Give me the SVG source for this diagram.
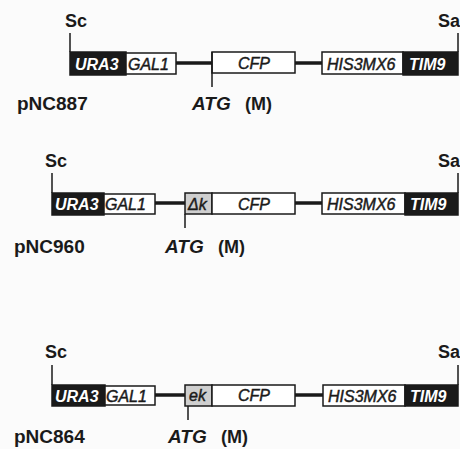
<svg xmlns="http://www.w3.org/2000/svg" width="460" height="449" viewBox="0 0 460 449">
<style>
text{font-family:"Liberation Sans",Arial,sans-serif}
.site{font-size:18px;font-weight:bold;fill:#1a1a1a}
.name{font-size:19px;font-weight:bold;fill:#1a1a1a}
.atg{font-size:19px;font-weight:bold;font-style:italic;fill:#1a1a1a}
.m{font-size:18px;font-weight:bold;fill:#1a1a1a}
.gw{font-size:16px;font-weight:bold;font-style:italic;fill:#fff}
.gb{font-size:16px;font-style:italic;fill:#1a1a1a;stroke:#1a1a1a;stroke-width:0.45}
.blk{fill:#1a1a1a;stroke:#1a1a1a;stroke-width:1.5}
.wht{fill:#fff;stroke:#1a1a1a;stroke-width:1.5}
.gry{fill:#cfcfcf;stroke:#1a1a1a;stroke-width:1.5}
.thin{stroke:#1a1a1a;stroke-width:1.5;fill:none}
.thick{stroke:#1a1a1a;stroke-width:3.5;fill:none}
</style>
<rect width="460" height="449" fill="#fbfbfb"/>

<!-- Construct 1: pNC887 -->
<g id="pNC887">
  <g id="c1-sc"><text class="site" x="65" y="27">Sc</text></g>
  <g id="c1-ura3"><rect class="blk" x="70" y="52" width="56" height="23"/><text class="gw" x="75" y="70">URA3</text></g>
  <g id="c1-gal1"><rect class="wht" x="126" y="53" width="50" height="21"/><text class="gb" x="128" y="70">GAL1</text></g>
  <g id="c1-cfp"><rect class="wht" x="212" y="52" width="83" height="21"/><text class="gb" x="238" y="69">CFP</text></g>
  <g id="c1-his"><rect class="wht" x="322" y="52" width="81" height="22"/><text class="gb" x="327" y="70">HIS3MX6</text></g>
  <g id="c1-tim9"><rect class="blk" x="403" y="52" width="55" height="23"/><text class="gw" x="409" y="70">TIM9</text></g>
  <g id="c1-sa"><text class="site" x="460" y="27" text-anchor="end">Sa</text></g>
  <g id="c1-atg"><text class="atg" x="192" y="110">ATG</text><text class="m" x="245" y="110">(M)</text></g>
  <g id="c1-label"><text class="name" x="17" y="110">pNC887</text></g>
</g>

<!-- Construct 2: pNC960 -->
<g id="pNC960">
  <g id="c2-sc"><text class="site" x="45" y="167">Sc</text></g>
  <g id="c2-ura3"><rect class="blk" x="52" y="193" width="52" height="22"/><text class="gw" x="55" y="210">URA3</text></g>
  <g id="c2-gal1"><rect class="wht" x="104" y="194" width="51" height="20"/><text class="gb" x="105" y="210">GAL1</text></g>
  <g id="c2-dk"><rect class="gry" x="185" y="193" width="27" height="21"/><text class="gb" x="188" y="210">Δk</text></g>
  <g id="c2-cfp"><rect class="wht" x="212" y="193" width="83" height="21"/><text class="gb" x="238" y="210">CFP</text></g>
  <g id="c2-his"><rect class="wht" x="322" y="193" width="83" height="21"/><text class="gb" x="327" y="210">HIS3MX6</text></g>
  <g id="c2-tim9"><rect class="blk" x="405" y="193" width="53" height="22"/><text class="gw" x="410" y="210">TIM9</text></g>
  <g id="c2-sa"><text class="site" x="460" y="167" text-anchor="end">Sa</text></g>
  <g id="c2-atg"><text class="atg" x="165" y="253">ATG</text><text class="m" x="218" y="253">(M)</text></g>
  <g id="c2-label"><text class="name" x="14" y="253">pNC960</text></g>
</g>

<!-- Construct 3: pNC864 -->
<g id="pNC864">
  <g id="c3-sc"><text class="site" x="45" y="358">Sc</text></g>
  <g id="c3-ura3"><rect class="blk" x="52" y="385" width="53" height="21"/><text class="gw" x="55" y="402">URA3</text></g>
  <g id="c3-gal1"><rect class="wht" x="105" y="386" width="50" height="19"/><text class="gb" x="106" y="402">GAL1</text></g>
  <g id="c3-ek"><rect class="gry" x="185" y="385" width="27" height="21"/><text class="gb" x="189" y="401">ek</text></g>
  <g id="c3-cfp"><rect class="wht" x="212" y="385" width="83" height="21"/><text class="gb" x="238" y="401">CFP</text></g>
  <g id="c3-his"><rect class="wht" x="323" y="385" width="82" height="21"/><text class="gb" x="328" y="402">HIS3MX6</text></g>
  <g id="c3-tim9"><rect class="blk" x="405" y="385" width="53" height="21"/><text class="gw" x="410" y="402">TIM9</text></g>
  <g id="c3-sa"><text class="site" x="460" y="358" text-anchor="end">Sa</text></g>
  <g id="c3-atg"><text class="atg" x="168" y="443">ATG</text><text class="m" x="221" y="443">(M)</text></g>
  <g id="c3-label"><text class="name" x="14" y="443">pNC864</text></g>
</g>

<g id="connectors">
  <!-- construct 1 -->
  <line class="thin" x1="70" y1="33" x2="70" y2="52"/>
  <line class="thin" x1="458" y1="33" x2="458" y2="52"/>
  <line class="thick" x1="176" y1="63" x2="212" y2="63"/>
  <line class="thick" x1="295" y1="63" x2="322" y2="63"/>
  <line class="thin" x1="212" y1="52" x2="212" y2="87"/>
  <!-- construct 2 -->
  <line class="thin" x1="52" y1="173" x2="52" y2="193"/>
  <line class="thin" x1="458" y1="173" x2="458" y2="193"/>
  <line class="thick" x1="155" y1="203" x2="185" y2="203"/>
  <line class="thick" x1="295" y1="203" x2="322" y2="203"/>
  <line class="thin" x1="185" y1="214" x2="185" y2="228"/>
  <!-- construct 3 -->
  <line class="thin" x1="52" y1="365" x2="52" y2="385"/>
  <line class="thin" x1="458" y1="365" x2="458" y2="385"/>
  <line class="thick" x1="155" y1="395" x2="185" y2="395"/>
  <line class="thick" x1="295" y1="395" x2="323" y2="395"/>
  <line class="thin" x1="188" y1="406" x2="188" y2="420"/>
</g>
</svg>
